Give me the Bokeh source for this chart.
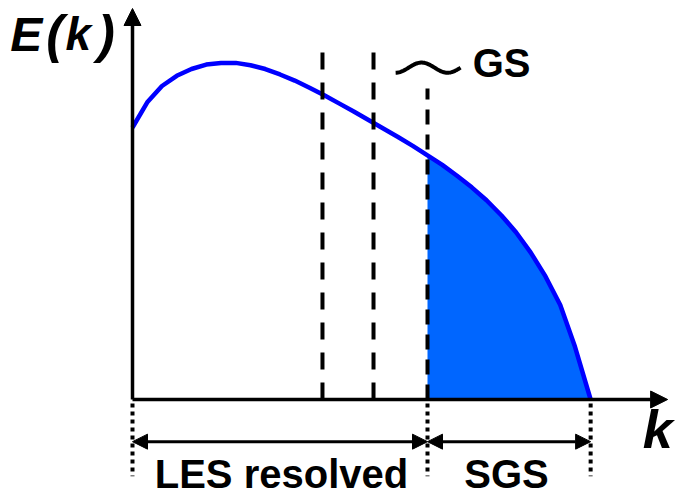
import numpy as np
from bokeh.plotting import figure
from bokeh.models import Range1d, Arrow, NormalHead
from bokeh.core.properties import value
from bokeh.embed import file_html
from bokeh.resources import INLINE

# --- data (wavenumber k, energy E(k)), schematic units ---
k_vals = [0, 0.5, 1, 1.5, 2, 2.5, 3, 3.5, 4, 4.5, 5, 5.5, 6, 6.5, 7, 7.5,
          8, 8.5, 9, 9.5, 10, 10.5, 11, 11.5, 12, 12.5, 13, 13.5, 14, 14.5,
          15, 15.53]
E_vals = [8.0, 8.74, 9.22, 9.52, 9.72, 9.85, 9.9, 9.9, 9.83, 9.72, 9.56,
          9.38, 9.17, 8.95, 8.71, 8.47, 8.22, 7.97, 7.72, 7.46, 7.18, 6.9,
          6.58, 6.24, 5.86, 5.42, 4.92, 4.32, 3.62, 2.78, 1.55, 0.0]

k_filters = [6.44, 8.17]       # test-filter cut-offs (dashed)
k_cut = 10.0                   # grid cut-off
k_max = 15.53                  # end of spectrum
k_axis_end = 18.14
E_axis_end = 11.5
filter_top = 10.5
cut_top = 9.15

labels_bottom = ["LES resolved", "SGS"]
label_gs = "GS"

FONT = value("Liberation Sans")

p = figure(width=677, height=495, output_backend="svg", toolbar_location=None,
           x_range=Range1d(-132 / 29.5, 545 / 29.5),
           y_range=Range1d(-96 / 34, 399 / 34),
           x_axis_location=None, y_axis_location=None,
           min_border=0, outline_line_color=None)
p.grid.visible = False

k = np.array(k_vals)
E = np.array(E_vals)

# SGS shaded region
mask = k >= k_cut
p.varea(x=k[mask], y1=np.zeros(mask.sum()), y2=E[mask], fill_color="#0066FF")

# spectrum
p.line(k, E, line_color="#0000FF", line_width=4.5)

# dashed filter lines
for kf in k_filters:
    p.line([kf, kf], [0, filter_top], line_color="black", line_width=4,
           line_dash="17 13")
p.line([k_cut, k_cut], [0, cut_top], line_color="black", line_width=4,
       line_dash="15 10")

# axes with arrowheads
p.add_layout(Arrow(end=NormalHead(size=17, fill_color="black", line_color="black"),
                   x_start=0, y_start=0, x_end=0, y_end=E_axis_end,
                   line_width=3.5, line_color="black"))
p.add_layout(Arrow(end=NormalHead(size=17, fill_color="black", line_color="black"),
                   x_start=0, y_start=0, x_end=k_axis_end, y_end=0,
                   line_width=3.5, line_color="black"))

# dotted guides below axis
for kd in [0, k_cut, k_max]:
    p.line([kd, kd], [-0.12, -2.26], line_color="black", line_width=4,
           line_dash="4 4")

# double arrows
y_arr = -1.24
for a, b in [(0, k_cut), (k_cut, k_max)]:
    p.add_layout(Arrow(start=NormalHead(size=15, fill_color="black", line_color="black"),
                       end=NormalHead(size=15, fill_color="black", line_color="black"),
                       x_start=a, y_start=y_arr, x_end=b, y_end=y_arr,
                       line_width=3, line_color="black"))

# tilde symbol before "GS"
t = np.linspace(0, 1, 60)
p.line(8.92 + 2.2 * t, 9.76 + 0.15 * np.sin(-np.pi / 2 + 2.5 * np.pi * t),
       line_color="black", line_width=4)

# texts
p.text(x=[11.53], y=[9.91], text=[label_gs], text_font=FONT, text_font_style="bold",
       text_font_size="40px", text_align="left", text_baseline="alphabetic",
       text_color="black")
p.text(x=[5.05, 12.68], y=[-2.18, -2.18], text=labels_bottom, text_font=FONT,
       text_font_style="bold", text_font_size="40px", text_align="center",
       text_baseline="alphabetic", text_color="black")
p.text(x=[17.3], y=[-0.88], text=["k"], text_font=FONT, text_font_style="bold italic",
       text_font_size="54px", text_align="left", text_baseline="alphabetic",
       text_color="black")
# E(k) label, glyph by glyph
p.text(x=[-4.14], y=[10.74], text=["E"], text_font=FONT, text_font_style="bold italic",
       text_font_size="48px", text_align="left", text_baseline="alphabetic",
       text_color="black")
p.text(x=[-2.92, -1.19], y=[10.74, 10.74], text=["(", ")"], text_font=FONT,
       text_font_style="bold italic", text_font_size="52px", text_align="left",
       text_baseline="alphabetic", text_color="black")
p.text(x=[-2.27], y=[10.74], text=["k"], text_font=FONT, text_font_style="bold italic",
       text_font_size="46px", text_align="left", text_baseline="alphabetic",
       text_color="black")

open("out.html", "w").write(file_html(p, INLINE))
